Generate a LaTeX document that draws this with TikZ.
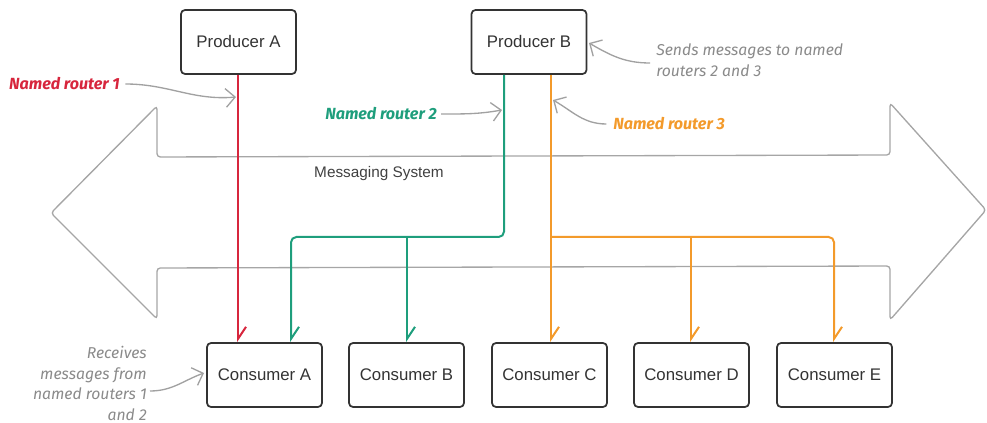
\documentclass[tikz,border=0pt]{standalone}
\usepackage{fontspec}
\setmainfont{Liberation Sans}
\newfontfamily\notefont{Fira Sans}
\usetikzlibrary{arrows.meta}
\definecolor{boxline}{HTML}{333333}
\definecolor{busgray}{HTML}{A6A6A6}
\definecolor{notegray}{HTML}{8A8A8A}
\definecolor{routered}{HTML}{D7263D}
\definecolor{routegreen}{HTML}{1E9E7C}
\definecolor{routeorange}{HTML}{F39A2B}
\tikzset{
  comp/.style={draw=boxline, line width=1.3pt, rounded corners=3pt,
    minimum width=86.25pt, minimum height=48pt, inner sep=0pt,
    font=\fontsize{12.6}{14}\selectfont, text=black!80},
  route/.style={line width=1.5pt, rounded corners=4pt,
    -{Straight Barb[left,length=9pt,width=12pt,line width=1.5pt]}},
  note/.style={font=\notefont\itshape\fontsize{11.8}{15.6}\selectfont, text=notegray, inner sep=0pt},
  tag/.style={font=\notefont\bfseries\itshape\fontsize{12.1}{14}\selectfont, inner sep=0pt},
  pointer/.style={draw=notegray!80, line width=1pt,
    -{Straight Barb[length=7pt,width=14pt,line width=1pt]}},
}
\begin{document}
\begin{tikzpicture}[x=0.75pt,y=-0.75pt]
\useasboundingbox (0,0) rectangle (987,423);

% double-headed band standing for the messaging system
\draw[busgray, line width=1pt, rounded corners=2.5pt]
  (51,213) -- (157,106) -- (157,157) -- (890,155) -- (890,103) -- (986,210)
  -- (890,320) -- (890,266) -- (157,268) -- (157,319) -- cycle;
\node[font=\fontsize{11.5}{13}\selectfont, text=black!75] (ms) at (379,174) {Messaging System};

% producers and consumers
\node[comp] (pa) at (238.5,42) {Producer A};
\node[comp] (pb) at (529,42) {Producer B};
\node[comp] (ca) at (264.5,375) {Consumer A};
\node[comp] (cb) at (406.5,375) {Consumer B};
\node[comp] (cc) at (549.5,375) {Consumer C};
\node[comp] (cd) at (691.5,375) {Consumer D};
\node[comp] (ce) at (834.5,375) {Consumer E};

% named router 1
\draw[route, routered] (pa.south -| 238,0) -- (ca.north -| 238,0);
% named router 2
\draw[route, routegreen] (pb.south -| 504,0) -- (504,237) -- (291,237) -- (ca.north -| 291,0);
\draw[route, routegreen] (407,237) -- (cb.north -| 407,0);
% named router 3
\draw[route, routeorange] (pb.south -| 551,0) -- (cc.north -| 551,0);
\draw[route, routeorange] (551,237) -- (834,237) -- (ce.north -| 834,0);
\draw[route, routeorange] (691,237) -- (cd.north -| 691,0);

% labels and their pointers
\coordinate (p1) at (236,97);
\coordinate (p2) at (502,110);
\coordinate (p3) at (553,100);
\coordinate (pB) at (589,43);
\coordinate (pA) at (204,373);

\node[tag, routered, anchor=east] (t1) at (120,84) {Named router 1};
\node[tag, routegreen, anchor=east] (t2) at (437,114) {Named router 2};
\node[tag, routeorange, anchor=west] (t3) at (613,124) {Named router 3};
\node[note, anchor=west, align=left] (sb) at (656,60) {Sends messages to named\\routers 2 and 3};
\node[note, anchor=east, align=right] (ra) at (147,383.5) {Receives\\messages from\\named routers 1\\and 2};

\draw[pointer] ([xshift=4pt]t1.east) to[out=0, in=185] (p1);
\draw[pointer] ([xshift=3pt]t2.east) to[out=0, in=190] (p2);
\draw[pointer] ([xshift=-5pt]t3.west) to[out=180, in=-30] (p3);
\draw[pointer] (650,63) to[out=180, in=-30] (pB);
\draw[pointer] (150,391) to[out=0, in=200] (pA);
\end{tikzpicture}
\end{document}
